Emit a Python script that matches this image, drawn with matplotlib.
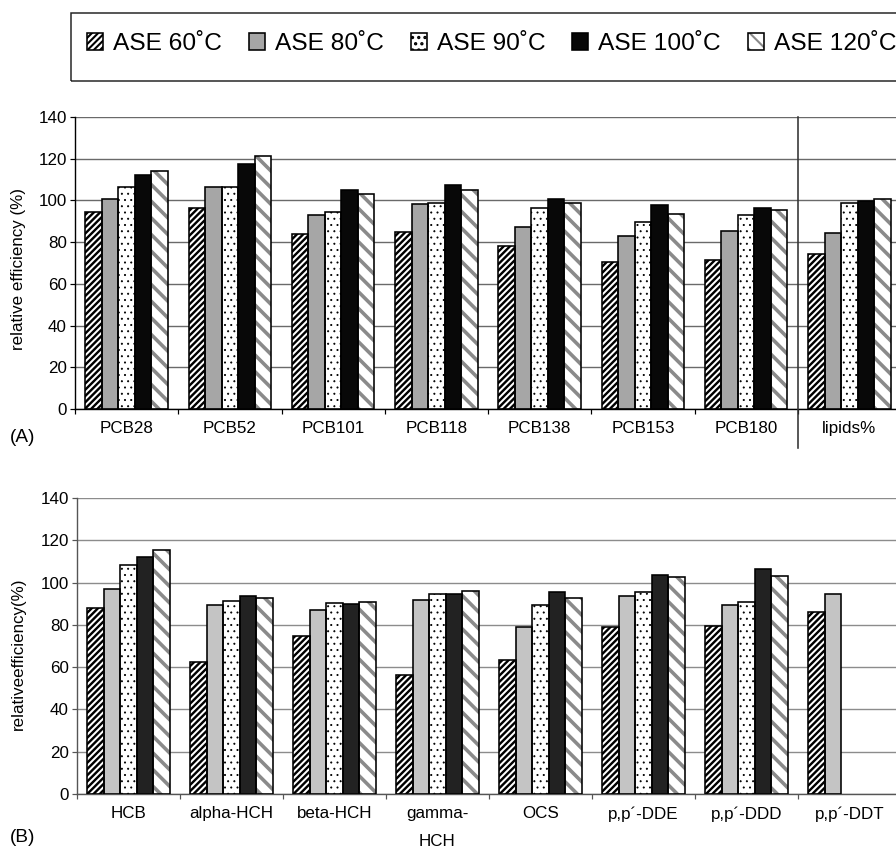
import numpy as np
import matplotlib
matplotlib.use('Agg')
import matplotlib.pyplot as plt
from matplotlib.patches import Patch, Rectangle

DPI = 150
W, H = 896, 850


def px(v):
    # pixels -> points at this dpi
    return v * 72 / DPI


plt.rcParams['font.family'] = ['Liberation Sans', 'DejaVu Sans']

# Data
series_names = ['ASE 60˚C', 'ASE 80˚C', 'ASE 90˚C', 'ASE 100˚C', 'ASE 120˚C']

cats_a = ['PCB28', 'PCB52', 'PCB101', 'PCB118', 'PCB138', 'PCB153', 'PCB180', 'lipids%']
a_60 = [94.6, 96.5, 84.0, 85.0, 78.1, 70.5, 71.5, 74.2]
a_80 = [100.6, 106.4, 93.0, 98.1, 87.2, 82.8, 85.3, 84.4]
a_90 = [106.4, 106.4, 94.6, 98.7, 96.2, 89.5, 92.8, 98.9]
a_100 = [112.3, 117.5, 104.8, 107.2, 100.5, 97.9, 96.3, 99.8]
a_120 = [114.0, 121.5, 102.9, 104.8, 99.0, 93.6, 95.4, 100.8]

cats_b = ['HCB', 'alpha-HCH', 'beta-HCH', 'gamma-\nHCH', 'OCS', 'p,p´-DDE', 'p,p´-DDD', 'p,p´-DDT']
b_60 = [87.9, 62.5, 74.6, 56.5, 63.3, 78.9, 79.4, 86.0]
b_80 = [97.0, 89.6, 87.1, 91.7, 78.9, 93.5, 89.6, 94.5]
b_90 = [108.5, 91.2, 90.4, 94.5, 89.6, 95.4, 91.0, np.nan]
b_100 = [112.0, 93.5, 89.8, 94.5, 95.4, 103.6, 106.3, np.nan]
b_120 = [115.3, 92.9, 91.0, 96.1, 92.9, 102.7, 103.3, np.nan]


# fill, hatch, hatch colour, hatch linewidth (px) for each series
def styles(gray, black):
    return [
        ('white', '////////', 'black', 2.4),
        (gray, '', gray, 1.0),
        ('white', '....', 'black', 0.8),
        (black, '', black, 1.0),
        ('white', '\\\\\\', '#8a8a8a', 3.6),
    ]


width = 0.16
edge_lw = px(1.6)


def draw_panel(ax, cats, values, gray, black, grid_color, spine_color):
    x = np.arange(len(cats))
    handles = []
    for i, (vals, (fc, hatch, hc, hlw)) in enumerate(zip(values, styles(gray, black))):
        pos = x + (i - 2) * width
        with plt.rc_context({'hatch.linewidth': px(hlw)}):
            ax.bar(pos, vals, width, color=fc, edgecolor=hc, hatch=hatch, linewidth=0, zorder=2)
            base = Patch(facecolor=fc, edgecolor=hc, hatch=hatch, linewidth=0)
        ax.bar(pos, vals, width, facecolor='none', edgecolor='black', linewidth=edge_lw, zorder=3)
        outline = Patch(facecolor='none', edgecolor='black', linewidth=edge_lw)
        handles.append((base, outline))

    ax.set_xlim(-0.5, len(cats) - 0.5)
    ax.set_ylim(0, 140)
    ax.set_yticks(np.arange(0, 141, 20))
    ax.yaxis.grid(True, color=grid_color, linewidth=px(1.4))
    ax.set_axisbelow(True)
    for s in ['top', 'right']:
        ax.spines[s].set_visible(False)
    for s in ['left', 'bottom']:
        ax.spines[s].set_color(spine_color)
        ax.spines[s].set_linewidth(px(1.4))

    # ticks at category borders, labels at centres
    ax.set_xticks(np.arange(len(cats) + 1) - 0.5)
    ax.set_xticklabels([])
    ax.set_xticks(x, minor=True)
    ax.set_xticklabels(cats, minor=True, fontsize=px(17), linespacing=2.1, va='top')
    ax.tick_params(axis='x', which='major', length=px(5), width=px(1.2), color=spine_color)
    ax.tick_params(axis='x', which='minor', length=0, pad=px(12))
    ax.tick_params(axis='y', length=px(5), width=px(1.2), color=spine_color,
                   labelsize=px(17), pad=px(3))
    return handles


fig = plt.figure(figsize=(W / DPI, H / DPI), dpi=DPI)

# Panel A (right part of the original is cut off)
ax_a = fig.add_axes([75 / W, 1 - 409 / H, 826 / W, 292 / H])
handles = draw_panel(ax_a, cats_a, [a_60, a_80, a_90, a_100, a_120],
                     '#a6a6a6', '#080808', '#6a6a6a', 'black')
ax_a.set_ylabel('relative efficiency (%)', fontsize=px(17))
ax_a.yaxis.set_label_coords((26 - 75) / 826, 0.481)
# separator before lipids%
ax_a.plot([6.5, 6.5], [-18.7, 140], color='#333333', linewidth=px(1.6), clip_on=False, zorder=4)

# Panel B
ax_b = fig.add_axes([77 / W, 1 - 794 / H, 824 / W, 296 / H])
draw_panel(ax_b, cats_b, [b_60, b_80, b_90, b_100, b_120],
           '#c4c4c4', '#222222', '#8c8c8c', '#555555')
ax_b.set_ylabel('relativeefficiency(%)', fontsize=px(17))
ax_b.yaxis.set_label_coords((26 - 77) / 824, 0.473)

fig.text(10 / W, 1 - 437 / H, '(A)', fontsize=px(19), va='center', ha='left')
fig.text(10 / W, 1 - 837 / H, '(B)', fontsize=px(19), va='center', ha='left')

# Legend box at the top
fig.add_artist(Rectangle((71 / W, 1 - 81 / H), 1.0, 68 / H, transform=fig.transFigure,
                         fill=False, edgecolor='#222222', linewidth=px(1.5)))
fs = 24.5
fig.legend(handles, series_names, loc='center left', bbox_to_anchor=(87 / W, 1 - 44 / H),
           ncol=5, frameon=False, fontsize=px(fs), borderpad=0, borderaxespad=0,
           handlelength=16 / fs, handleheight=17 / fs, handletextpad=10 / fs,
           columnspacing=27 / fs)

fig.savefig('out.png', dpi=DPI)
